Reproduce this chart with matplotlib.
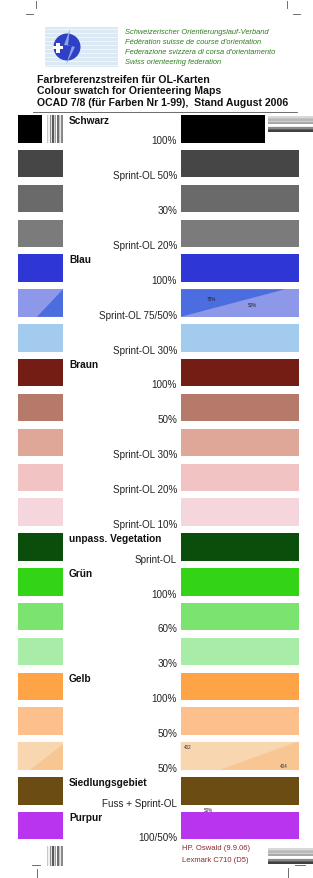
import numpy as np
import matplotlib.pyplot as plt
from matplotlib.patches import Rectangle, Polygon, Circle

plt.rcParams['font.family'] = ['Liberation Sans', 'DejaVu Sans']

# colour rows, top to bottom
group_names = ['Schwarz', '', '', '', 'Blau', '', '', 'Braun', '', '', '', '',
               'unpass. Vegetation', 'Grün', '', '', 'Gelb', '', '',
               'Siedlungsgebiet', 'Purpur']
row_labels = ['100%', 'Sprint-OL 50%', '30%', 'Sprint-OL 20%',
              '100%', 'Sprint-OL 75/50%', 'Sprint-OL 30%',
              '100%', '50%', 'Sprint-OL 30%', 'Sprint-OL 20%', 'Sprint-OL 10%',
              'Sprint-OL', '100%', '60%', '30%', '100%', '50%', '50%',
              'Fuss + Sprint-OL', '100/50%']
colors = ['#000000', '#464646', '#6a6a6a', '#7b7b7b',
          '#2f36d6', '#8d98e8', '#a3cbee',
          '#731d15', '#b57a69', '#dea797', '#f2c3c3', '#f4d6dc',
          '#0b4e0b', '#33d315', '#7be46f', '#a8eca7', '#ffa446', '#fdc08c', '#fad8b4',
          '#6b4c12', '#b934ee']
# second colour of the split swatches (row index -> colour)
split_colors = {5: '#4b6de0', 18: '#f9c490'}
split_texts = {5: ('75%', '50%'), 18: ('402', '404')}

header_green = ['Schweizerischer Orientierungslauf-Verband',
                'Fédération suisse de course d\'orientation',
                'Federazione svizzera di corsa d\'orientamento',
                'Swiss orienteering federation']
title_lines = ['Farbreferenzstreifen für OL-Karten',
               'Colour swatch for Orienteering Maps',
               'OCAD 7/8 (für Farben Nr 1-99),  Stand August 2006']
footer_lines = ['HP. Oswald (9.9.06)', 'Lexmark C710 (D5)']

stripe_grays_v = ['#c8c8c8', '#f0f0f0', '#909090', '#e0e0e0', '#585858', '#d0d0d0',
                  '#a0a0a0', '#ffffff', '#707070', '#c0c0c0', '#e8e8e8', '#888888']
stripe_grays_h = ['#d8d8d8', '#c4c4c4', '#b8b8b8', '#d0d0d0', '#a8a8a8', '#ffffff',
                  '#f0f0f0', '#8a8a8a', '#606060', '#404040']

fig = plt.figure(figsize=(3.13, 8.79), dpi=100)
ax = fig.add_axes([0, 0, 1, 1])
ax.set_xlim(0, 313)
ax.set_ylim(879, 0)
ax.axis('off')

# crop marks
for xs, ys in [([36, 36], [2, 9]), ([26, 33], [15, 15]), ([287, 287], [2, 9]),
               ([293, 300], [15, 15]), ([32, 40], [866, 866]), ([37, 37], [870, 879]),
               ([295, 305], [866, 866]), ([288, 288], [869, 879])]:
    ax.plot(xs, ys, color='#555555', lw=0.6)

# logo
ax.add_patch(Rectangle((45, 28), 73, 40, color='#dbe9f4', lw=0))
for yy in range(30, 68, 4):
    ax.add_patch(Rectangle((45, yy), 73, 1.2, color='#eef5fb', lw=0))
ax.add_patch(Circle((67, 48), 13.5, color='#2f3fc6', lw=0))
ax.add_patch(Polygon([[70, 30], [64, 46], [72, 47], [66, 66], [75, 48], [68, 46]],
                     color='#8aa2e6', lw=0))
ax.add_patch(Rectangle((53, 47), 10, 3.2, color='white', lw=0))
ax.add_patch(Rectangle((56.4, 43.6), 3.2, 10, color='white', lw=0))

for i, t in enumerate(header_green):
    ax.text(125, 33 + i * 9.8, t, fontsize=5.4, style='italic', color='#2e7d1e',
            va='center', ha='left')
for i, t in enumerate(title_lines):
    ax.text(37, 80 + i * 11.5, t, fontsize=7.6, fontweight='bold', color='#111111',
            va='center', ha='left')
ax.plot([33, 297], [112.5, 112.5], color='#555555', lw=0.6)

# swatch rows
step = 34.85
h = 27.5
for i, (name, lab, c) in enumerate(zip(group_names, row_labels, colors)):
    top = 116 + i * step
    bot = top + h
    if i == 0:
        ax.add_patch(Rectangle((18, top), 24, h, color=c, lw=0))
        for k, g in enumerate(stripe_grays_v):
            ax.add_patch(Rectangle((47 + k * 1.3, top), 1.3, h, color=g, lw=0))
        ax.add_patch(Rectangle((181, top), 84, h, color=c, lw=0))
        for k, g in enumerate(stripe_grays_h):
            ax.add_patch(Rectangle((268, top + 1 + k * 1.6), 45, 1.6, color=g, lw=0))
    else:
        ax.add_patch(Rectangle((18, top), 45, h, color=c, lw=0))
        ax.add_patch(Rectangle((181, top), 118, h, color=c, lw=0))
    if i in split_colors:
        c2 = split_colors[i]
        t1, t2 = split_texts[i]
        if i == 5:
            ax.add_patch(Polygon([[37, bot], [63, top], [63, bot]], color=c2, lw=0))
            ax.add_patch(Polygon([[181, bot], [285, top], [181, top]], color=c2, lw=0))
            ax.text(207, top + 9, t1, fontsize=3.3, color='#222222', va='center')
            ax.text(248, top + 15, t2, fontsize=3.3, color='#222222', va='center')
        else:
            for xx in np.arange(18, 63, 2):
                ax.plot([xx, xx], [top, bot], color='#f2cfa0', lw=0.3)
            for xx in np.arange(181, 299, 2):
                ax.plot([xx, xx], [top, bot], color='#f2cfa0', lw=0.3)
            ax.add_patch(Polygon([[30, bot], [63, top + 2], [63, bot]], color=c2, lw=0))
            ax.add_patch(Polygon([[220, bot], [296, top], [299, top], [299, bot]],
                                 color=c2, lw=0))
            ax.text(184, top + 4, t1, fontsize=3.3, color='#333333', va='center')
            ax.text(280, top + 23, t2, fontsize=3.3, color='#333333', va='center')
    if name:
        ax.text(69, top + 5, name, fontsize=7.3, fontweight='bold', color='#111111',
                va='center', ha='left')
    ax.text(177, top + 25.5, lab, fontsize=7.1, color='#222222', va='center', ha='right')

ax.text(204, 811, '50%', fontsize=3.3, color='#222222', va='center')

# footer
for i, t in enumerate(footer_lines):
    ax.text(182, 849 + i * 11.5, t, fontsize=5.5, color='#8a2b2b', va='center')
for k, g in enumerate(stripe_grays_v):
    ax.add_patch(Rectangle((47 + k * 1.3, 847), 1.3, 20, color=g, lw=0))
for k, g in enumerate(stripe_grays_h):
    ax.add_patch(Rectangle((268, 849 + k * 1.6), 45, 1.6, color=g, lw=0))

fig.savefig('out.png', dpi=100)
